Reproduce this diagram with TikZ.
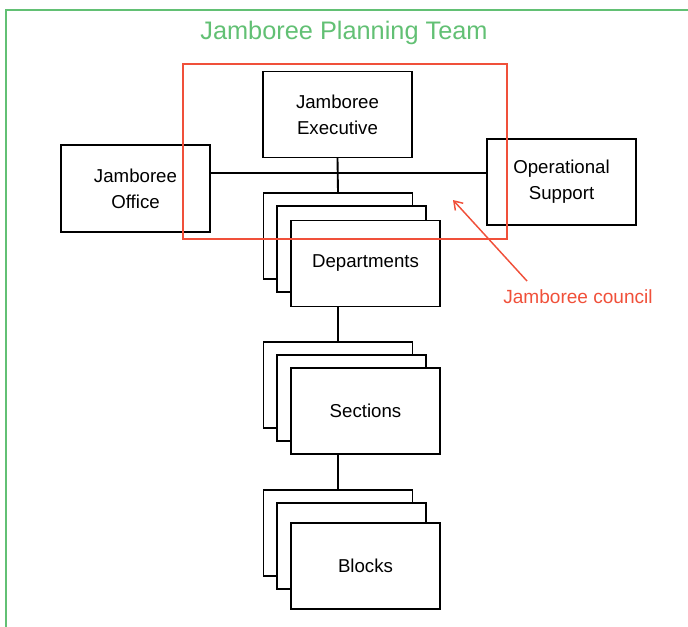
\documentclass[tikz,border=0pt]{standalone}
\usepackage{fontspec}
\setmainfont{Liberation Sans}
\usetikzlibrary{arrows.meta}
\definecolor{teamgreen}{HTML}{62C074}
\definecolor{councilred}{HTML}{F0503A}
\tikzset{
  unitbox/.style={draw=black, fill=white, line width=1.4pt, minimum width=111.75pt, minimum height=64.5pt, inner sep=0pt, outer sep=0pt, align=center, font=\fontsize{14}{19.5}\selectfont},
  link/.style={draw=black, line width=1.4pt},
}
\begin{document}
\begin{tikzpicture}[x=0.75pt, y=-0.75pt]
\useasboundingbox (0,0) rectangle (688,626);
\begin{scope}
\clip (0,0) rectangle (688,626);
\draw[teamgreen, line width=1.9pt] (6,10) rectangle (720,660);
\end{scope}
\node[text=teamgreen, font=\fontsize{19}{23}\selectfont] (title) at (344,33) {Jamboree Planning Team};

% top level
\node[unitbox] (exec) at (337.5,114.5) {Jamboree\\Executive};
\node[unitbox, minimum height=65.25pt] (office) at (135.5,188.5) {Jamboree\\Office};
\node[unitbox] (ops) at (561.5,182) {Operational\\Support};

% departments stack
\node[unitbox] (d1) at (338,236) {};
\node[unitbox] (d2) at (351.5,249) {};
\node[unitbox] (d3) at (365.5,263.5) {Departments};
% sections stack
\node[unitbox] (s1) at (338,385) {};
\node[unitbox] (s2) at (351.5,398) {};
\node[unitbox] (s3) at (365.5,411) {Sections};
% blocks stack
\node[unitbox] (b1) at (338,533) {};
\node[unitbox] (b2) at (351.5,546) {};
\node[unitbox] (b3) at (365.5,566) {Blocks};

% connectors
\coordinate (hl) at (339,173);
\draw[link] (office.east |- hl) -- (ops.west |- hl);
\draw[link] (exec.south) -- (d1.north);
\draw[link] (d3.south -| s1.north) -- (s1.north);
\draw[link] (s3.south -| b1.north) -- (b1.north);

% council
\node[draw=councilred, line width=1.4pt, minimum width=243pt, minimum height=131.25pt, inner sep=0pt] (council) at (345,151.5) {};
\node[text=councilred, font=\fontsize{14.3}{17}\selectfont] (clabel) at (578,297) {Jamboree council};
\coordinate (ctail) at (527,281);
\coordinate (chead) at (453,200);
\draw[councilred, line width=1.1pt, -{Straight Barb[length=6pt,width=8pt]}] (ctail) -- (chead);
\end{tikzpicture}
\end{document}
